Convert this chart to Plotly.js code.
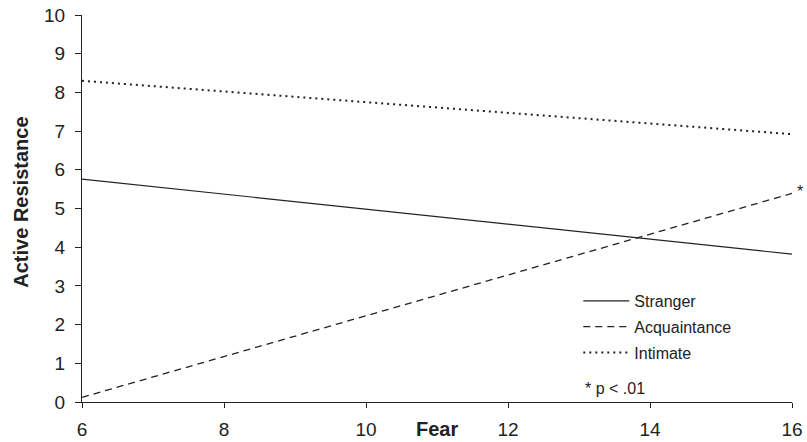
<!DOCTYPE html>
<html>
<head>
<meta charset="utf-8">
<script src="https://cdn.plot.ly/plotly-3.0.1.min.js"></script>
<style>html,body{margin:0;padding:0;background:#fff;}#chart{width:807px;height:442px;}</style>
</head>
<body>
<div id="chart"></div>
<script>
const fear = [6, 16];
const stranger = [5.76, 3.82];
const acquaintance = [0.12, 5.39];
const intimate = [8.30, 6.92];
const seriesNames = ["Stranger", "Acquaintance", "Intimate"];
const xTicks = [6, 8, 10, 12, 14, 16];
const yTicks = [0, 1, 2, 3, 4, 5, 6, 7, 8, 9, 10];

const FONT = "Liberation Sans, Arial, sans-serif";
const INK = "#222";
const traces = [
  {x: fear, y: stranger, name: seriesNames[0], legendgroup: "a", mode: "lines", line: {color: INK, width: 1.2, dash: "solid"}},
  {x: fear, y: acquaintance, name: seriesNames[1], legendgroup: "b", mode: "lines", line: {color: INK, width: 1.3, dash: "7px,5px"}},
  {x: fear, y: intimate, name: seriesNames[2], legendgroup: "c", mode: "lines", line: {color: INK, width: 2, dash: "2px,4px"}}
];
const layout = {
  width: 807, height: 442,
  margin: {l: 82, r: 15, t: 15, b: 40},
  paper_bgcolor: "#fff", plot_bgcolor: "#fff",
  font: {family: FONT, size: 16, color: INK},
  showlegend: true,
  legend: {x: 0.699, y: 0.305, xanchor: "left", yanchor: "top", font: {family: FONT, size: 16, color: INK},
           bgcolor: "rgba(0,0,0,0)", itemwidth: 46, tracegroupgap: 2},
  xaxis: {range: [6, 16], tickvals: xTicks, ticktext: xTicks.map(String), showgrid: false, zeroline: false,
          showline: true, linecolor: INK, linewidth: 1, ticks: "outside", ticklen: 5, tickcolor: INK,
          ticklabelstandoff: 5,
          tickfont: {family: FONT, size: 19, color: INK}, fixedrange: true},
  yaxis: {range: [0, 10], tickvals: yTicks, ticktext: yTicks.map(String), showgrid: false, zeroline: false,
          showline: true, linecolor: INK, linewidth: 1, ticks: "outside", ticklen: 6, tickcolor: INK,
          ticklabelstandoff: 6,
          tickfont: {family: FONT, size: 19, color: INK}, fixedrange: true},
  annotations: [
    {text: "<b>Fear</b>", xref: "paper", yref: "paper", x: 0.5, y: 0, yshift: -26.5, xanchor: "center", yanchor: "middle", showarrow: false, font: {family: FONT, size: 20, color: INK}},
    {text: "<b>Active Resistance</b>", xref: "paper", yref: "paper", x: 0, xshift: -61, y: 0.515, textangle: -90, xanchor: "center", yanchor: "middle", showarrow: false, font: {family: FONT, size: 20, color: INK}},
    {text: "*", xref: "x", yref: "y", x: fear[1], y: acquaintance[1], xshift: 8, yshift: 2, showarrow: false, font: {family: FONT, size: 16, color: INK}},
    {text: "* p < .01", xref: "paper", yref: "paper", x: 0.7056, y: 0.036, xanchor: "left", yanchor: "middle", showarrow: false, font: {family: FONT, size: 16, color: INK}}
  ]
};
Plotly.newPlot("chart", traces, layout, {displayModeBar: false, staticPlot: true});
</script>
</body>
</html>
